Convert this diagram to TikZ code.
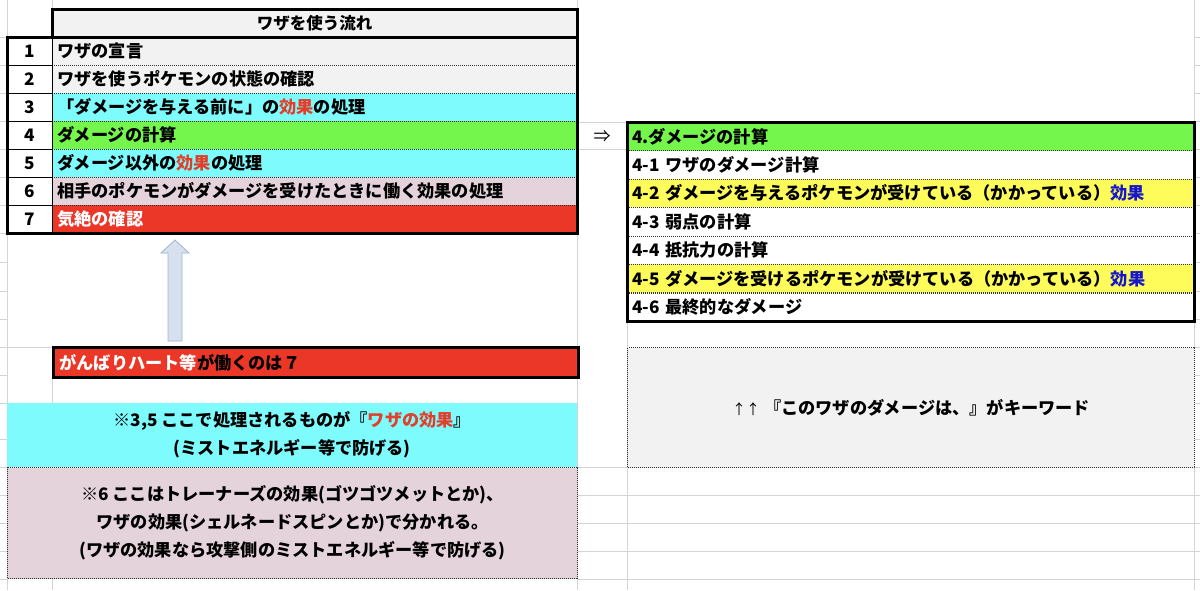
\documentclass[tikz,border=0pt]{standalone}
\usepackage{fontspec}
\setmainfont{Noto Sans CJK JP}
\usetikzlibrary{calc}
\definecolor{gridc}{RGB}{212,212,212}
\definecolor{lgray}{RGB}{242,242,242}
\definecolor{cyanf}{RGB}{125,251,253}
\definecolor{greenf}{RGB}{117,246,77}
\definecolor{pinkf}{RGB}{228,211,219}
\definecolor{redf}{RGB}{234,55,40}
\definecolor{yellowf}{RGB}{254,252,90}
\definecolor{txtred}{RGB}{226,62,42}
\definecolor{txtblue}{RGB}{22,22,205}
\definecolor{arrowf}{RGB}{214,224,238}
\definecolor{arrowd}{RGB}{165,180,204}
\definecolor{dotc}{RGB}{50,50,50}
\newcommand\jpf{\fontsize{17.2}{20}\selectfont\bfseries}
\begin{document}
\begin{tikzpicture}[x=1pt,y=-1pt,
  gridline/.style={draw=gridc,line width=1pt},
  border/.style={draw=black,line width=3pt},
  rowsep/.style={draw=dotc,line width=1.1pt,dash pattern=on 1pt off 1pt},
  numsep/.style={draw=black,line width=1pt},
  cell/.style={anchor=north west,minimum height=28pt,inner xsep=5pt,inner ysep=0pt,
    text width=515pt,align=left,font=\jpf,text=black},
  rcell/.style={anchor=north west,minimum height=28.43pt,inner xsep=5pt,inner ysep=0pt,
    text width=557pt,align=left,font=\jpf,text=black},
  numcell/.style={anchor=north west,minimum height=28pt,minimum width=45pt,inner sep=0pt,
    fill=white,font=\jpf,text=black},
  notebox/.style={anchor=north west,inner sep=0pt,align=center,
    font=\fontsize{17.2}{28}\selectfont\bfseries,text=black},
  dotbox/.style={draw=dotc,line width=1.1pt,dash pattern=on 1pt off 1pt}
]
\useasboundingbox (0,0) rectangle (1200,590);
\fill[white] (0,0) rectangle (1200,590);
% ---- spreadsheet grid ----
\foreach \yy in {37,65,93,121,149,177,205,233,262,291,319,347,375,403,439,467,495,523,551,579}{
  \draw[gridline] (0,\yy) -- (7,\yy);
  \draw[gridline] (1194,\yy) -- (1200,\yy);
}
\draw[gridline] (7,347) -- (52,347);
\foreach \yy in {122,149,467,495,523,551,579}{\draw[gridline] (577,\yy) -- (627,\yy);}
\foreach \yy in {495,523,551,579}{\draw[gridline] (627,\yy) -- (1194,\yy);}
\draw[gridline] (7,0) -- (7,590);
\draw[gridline] (52,0) -- (52,9);
\draw[gridline] (52,376) -- (52,403);
\draw[gridline] (52,579) -- (52,590);
\draw[gridline] (577,0) -- (577,590);
\draw[gridline] (627,122) -- (627,590);
\draw[gridline] (1194,0) -- (1194,590);

% ---- left table ----
\node[anchor=north west,minimum width=525pt,minimum height=28pt,inner sep=0pt,fill=lgray,
  font=\fontsize{16.5}{20}\selectfont\bfseries] (head) at (52,9) {ワザを使う流れ};
\node[cell,fill=lgray] (r1) at (52,37) {ワザの宣言};
\node[cell,fill=lgray] (r2) at (52,65) {ワザを使うポケモンの状態の確認};
\node[cell,fill=cyanf] (r3) at (52,93) {「ダメージを与える前に」の\textcolor{txtred}{効果}の処理};
\node[cell,fill=greenf] (r4) at (52,121) {ダメージの計算};
\node[cell,fill=cyanf] (r5) at (52,149) {ダメージ以外の\textcolor{txtred}{効果}の処理};
\node[cell,fill=pinkf] (r6) at (52,177) {相手のポケモンがダメージを受けたときに働く効果の処理};
\node[cell,fill=redf,text=white] (r7) at (52,205) {気絶の確認};
\node[numcell] (n1) at (7,37) {1};
\node[numcell] (n2) at (7,65) {2};
\node[numcell] (n3) at (7,93) {3};
\node[numcell] (n4) at (7,121) {4};
\node[numcell] (n5) at (7,149) {5};
\node[numcell] (n6) at (7,177) {6};
\node[numcell] (n7) at (7,205) {7};
\foreach \r in {r1,r2,r3,r4,r5,r6}{\draw[rowsep] (\r.south west) -- (\r.south east);}
\foreach \n in {n1,n2,n3,n4,n5,n6}{\draw[numsep] (\n.south west) -- (\n.south east);}
\draw[numsep] (n1.north east) -- (n7.south east);
\draw[border] (head.north west) rectangle (head.south east);
\draw[border] (n1.north west) rectangle (r7.south east);

% ---- arrow ----
\node[anchor=north west,minimum width=525pt,minimum height=30pt,inner xsep=6pt,inner ysep=0pt,
  text width=513pt,align=left,fill=redf,draw=black,line width=3pt,font=\jpf] (hb) at (52,346)
  {\textcolor{white}{がんばりハート等}が働くのは７};
\coordinate (atip) at (175,240);
\coordinate (abase) at (175,341);
\draw[fill=arrowf,draw=arrowd,line width=0.8pt]
  ($(abase)+(-7,0)$) -- ($(atip)+(-7,13)$) -- ($(atip)+(-14,13)$) -- (atip)
  -- ($(atip)+(14,13)$) -- ($(atip)+(7,13)$) -- ($(abase)+(7,0)$) -- cycle;

% ---- notes ----
\node[notebox,fill=cyanf,minimum width=570pt,minimum height=64pt] (c35) at (7,403)
  {※3,5 ここで処理されるものが『\textcolor{txtred}{ワザの効果}』\\(ミストエネルギー等で防げる)};
\node[notebox,fill=pinkf,dotbox,minimum width=570pt,minimum height=111pt] (c6) at (7,467)
  {※6 ここはトレーナーズの効果(ゴツゴツメットとか)、\\ワザの効果(シェルネードスピンとか)で分かれる。\\(ワザの効果なら攻撃側のミストエネルギー等で防げる)};

% ---- implies ----
\node[font=\fontsize{17}{20}\selectfont] (imp) at (602,136) {⇒};

% ---- right table ----
\node[rcell,fill=greenf] (s0) at (627,122) {4.ダメージの計算};
\node[rcell,fill=white] (s1) at (627,150.43) {4-1 ワザのダメージ計算};
\node[rcell,fill=yellowf] (s2) at (627,178.86) {4-2 ダメージを与えるポケモンが受けている（かかっている）\textcolor{txtblue}{効果}};
\node[rcell,fill=white] (s3) at (627,207.29) {4-3 弱点の計算};
\node[rcell,fill=white] (s4) at (627,235.72) {4-4 抵抗力の計算};
\node[rcell,fill=yellowf] (s5) at (627,264.15) {4-5 ダメージを受けるポケモンが受けている（かかっている）\textcolor{txtblue}{効果}};
\node[rcell,fill=white] (s6) at (627,292.58) {4-6 最終的なダメージ};
\foreach \r in {s0,s1,s2,s3,s4,s5}{\draw[rowsep] (\r.south west) -- (\r.south east);}
\draw[border] (s0.north west) rectangle (s6.south east);

\node[notebox,fill=lgray,dotbox,minimum width=567pt,minimum height=120pt] (kw) at (627,347)
  {{\mdseries\fontsize{14}{20}\selectfont ↑↑} 『このワザのダメージは、』がキーワード};
\end{tikzpicture}
\end{document}
